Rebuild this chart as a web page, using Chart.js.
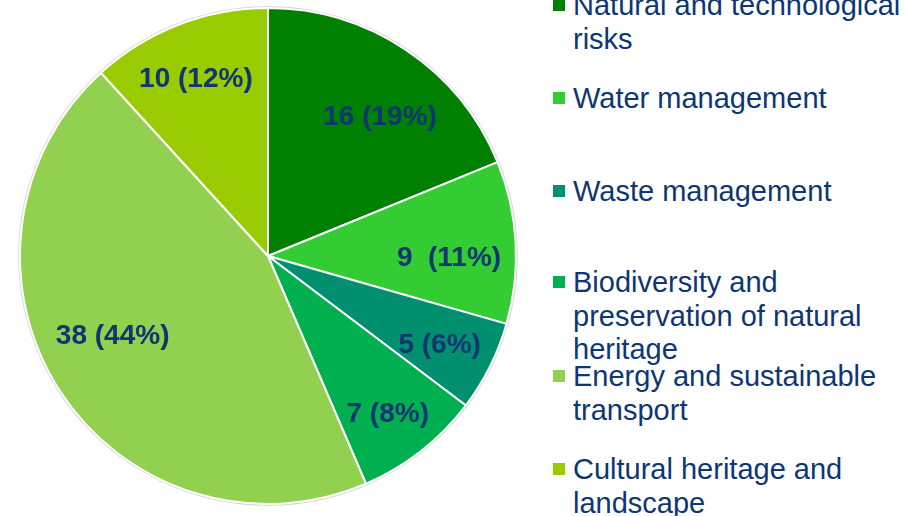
<!DOCTYPE html>
<html>
<head>
<meta charset="utf-8">
<script src="https://cdn.jsdelivr.net/npm/chart.js@4"></script>
<style>
    html, body { margin: 0; padding: 0; background: #fff; }
    #wrap { position: relative; width: 909px; height: 516px; overflow: hidden; }
    #pieBox { position: absolute; left: 0; top: 0; width: 536px; height: 516px; }
    .legend-item {
        position: absolute; left: 573px; white-space: nowrap;
        font-family: 'Liberation Sans', Arial, sans-serif; font-size: 29px;
        line-height: 33.5px; color: #0D3673;
    }
    .legend-box { position: absolute; left: -20px; top: 10px; width: 12px; height: 12px; }
</style>
</head>
<body>
<div id="wrap">
    <div id="pieBox"><canvas id="pieChart" width="536" height="516"></canvas></div>
    <div id="legend"></div>
</div>
<script>
// Chart data
const categories = [
    'Natural and technological risks',
    'Water management',
    'Waste management',
    'Biodiversity and preservation of natural heritage',
    'Energy and sustainable transport',
    'Cultural heritage and landscape'
];
const counts = [16, 9, 5, 7, 38, 10];
const percents = ['19%', '11%', '6%', '8%', '44%', '12%'];
const sliceColors = ['#008000', '#33CC33', '#009070', '#00B050', '#92D050', '#99CC00'];
// legend lines as they wrap in the original
const legendLines = [
    ['Natural and technological', 'risks'],
    ['Water management'],
    ['Waste management'],
    ['Biodiversity and', 'preservation of natural', 'heritage'],
    ['Energy and sustainable', 'transport'],
    ['Cultural heritage and', 'landscape']
];
const legendTops = [-11, 82, 175, 266, 360, 453];

// label placement inside slices (radius fraction, angle nudge in degrees)
const labelRadius = [0.72, 0.73, 0.78, 0.80, 0.705, 0.77];
const labelNudge = [5, 4, 1, 1, 5.5, -1];

const TEXT_COLOR = '#0D3673';

// faint grey rim around the pie
const pieRim = {
    id: 'pieRim',
    beforeDatasetsDraw(chart) {
        const arc = chart.getDatasetMeta(0).data[0];
        if (!arc) return;
        const p = arc.getProps(['x', 'y', 'outerRadius'], true);
        const ctx = chart.ctx;
        ctx.save();
        ctx.beginPath();
        ctx.arc(p.x, p.y, p.outerRadius + 1, 0, Math.PI * 2);
        ctx.strokeStyle = 'rgba(0,0,0,0.18)';
        ctx.lineWidth = 1.5;
        ctx.stroke();
        ctx.restore();
    }
};

// Labels inside the slices: "count (pct)"
const sliceLabels = {
    id: 'sliceLabels',
    afterDatasetsDraw(chart) {
        const ctx = chart.ctx;
        const meta = chart.getDatasetMeta(0);
        ctx.save();
        ctx.font = 'bold 28px "Liberation Sans", Arial, sans-serif';
        ctx.fillStyle = TEXT_COLOR;
        ctx.textAlign = 'center';
        ctx.textBaseline = 'middle';
        meta.data.forEach((arc, i) => {
            const p = arc.getProps(['x', 'y', 'startAngle', 'endAngle', 'outerRadius'], true);
            const mid = (p.startAngle + p.endAngle) / 2 + labelNudge[i] * Math.PI / 180;
            const r = p.outerRadius * labelRadius[i];
            const sep = i === 1 ? '  ' : ' ';
            ctx.fillText(counts[i] + sep + '(' + percents[i] + ')', p.x + Math.cos(mid) * r, p.y + Math.sin(mid) * r);
        });
        ctx.restore();
    }
};

const ctx = document.getElementById('pieChart').getContext('2d');
new Chart(ctx, {
    type: 'pie',
    data: {
        labels: categories,
        datasets: [{
            data: counts,
            backgroundColor: sliceColors,
            borderColor: '#ffffff',
            borderWidth: 2
        }]
    },
    options: {
        responsive: false,
        animation: false,
        layout: { padding: { top: 7, bottom: 11, left: 19, right: 19 } },
        plugins: {
            legend: { display: false },
            tooltip: { enabled: false }
        }
    },
    plugins: [pieRim, sliceLabels]
});

// HTML legend
const legend = document.getElementById('legend');
legend.innerHTML = categories.map((c, i) => `
    <div class="legend-item" style="top:${legendTops[i]}px">
        <span class="legend-box" style="background:${sliceColors[i]}"></span>
        ${legendLines[i].join('<br>')}
    </div>
`).join('');
</script>
</body>
</html>
